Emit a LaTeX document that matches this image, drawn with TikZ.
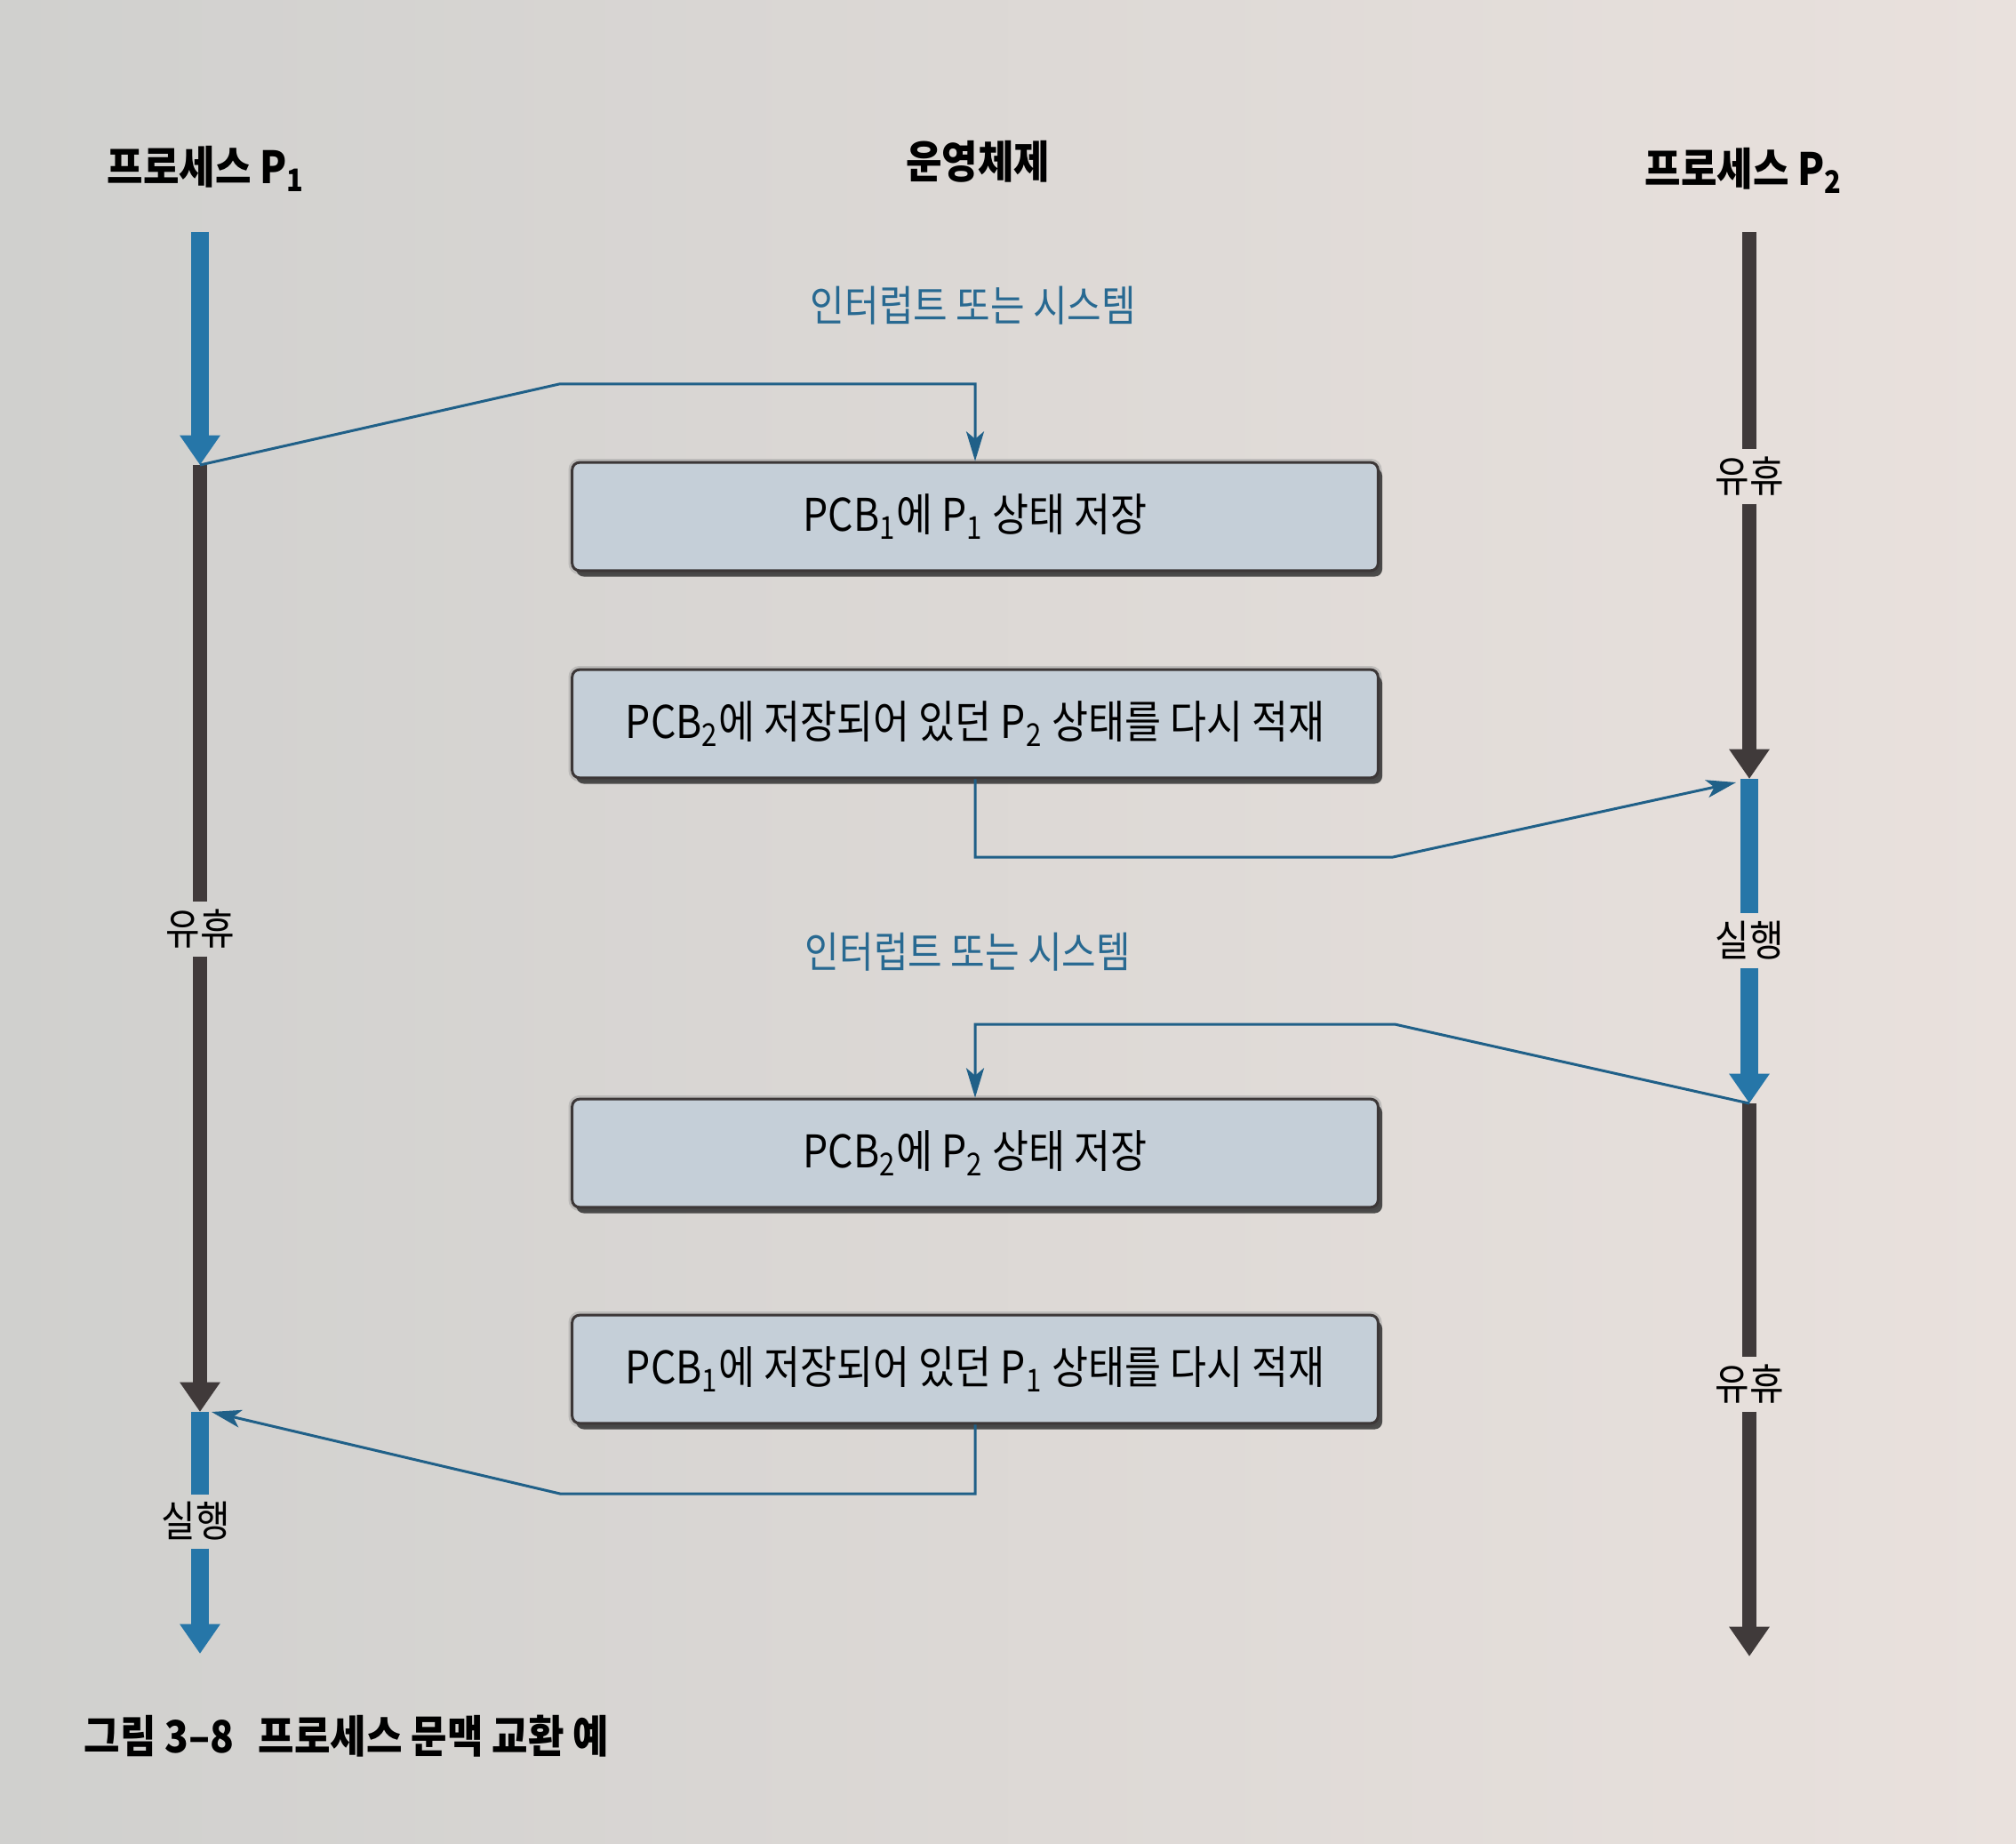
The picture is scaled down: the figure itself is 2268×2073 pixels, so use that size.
\documentclass[tikz,border=0pt]{standalone}
\usepackage{fontspec}
\setmainfont{Noto Sans CJK KR}[FakeStretch=0.88]
\usetikzlibrary{arrows.meta,shadows}
\definecolor{pagel}{RGB}{208,208,206}
\definecolor{pager}{RGB}{233,225,221}
\definecolor{runblue}{RGB}{38,118,168}
\definecolor{linkblue}{RGB}{32,96,136}
\definecolor{idlegray}{RGB}{64,58,58}
\definecolor{boxfill}{RGB}{197,207,216}
\definecolor{boxedge}{RGB}{60,55,55}
\definecolor{lblblue}{RGB}{40,105,145}
\begin{document}
\begin{tikzpicture}[x=0.3pt,y=-0.3pt,
  title/.style={font=\fontsize{15}{18}\selectfont\bfseries, inner sep=0pt},
  state/.style={font=\fontsize{14.3}{17}\selectfont, inner sep=2.5pt},
  irq/.style={font=\fontsize{14.3}{17}\selectfont, text=lblblue, inner sep=0pt},
  osbox/.style={draw=boxedge, line width=0.9pt, fill=boxfill, rounded corners=2.5pt,
    minimum width=272pt, minimum height=36.5pt, inner sep=0pt,
    font=\fontsize{15.2}{18}\selectfont,
    general shadow={fill=black!45, draw=black!35, line width=2.5pt, opacity=0.55},
    drop shadow={shadow xshift=1.4pt, shadow yshift=-2pt, fill=black!80, opacity=0.85}},
  run/.style={line width=5.8pt, draw=runblue},
  idle/.style={line width=4.8pt, draw=idlegray},
  bigtip/.style={-{Triangle[width=13pt,length=10pt]}},
  link/.style={draw=linkblue, line width=0.9pt, -{Stealth[length=10pt,width=6pt,inset=2.5pt]}}
]
% page background
\shade[left color=pagel, right color=pager] (0,0) rectangle (2268,2073);
\useasboundingbox (0,0) rectangle (2268,2073);

% titles
\node[title] (t1) at (232,190) {프로세스 P\textsubscript{1}};
\node[title] (tos) at (1100,182) {운영체제};
\node[title] (t2) at (1962,192) {프로세스 P\textsubscript{2}};

% OS boxes
\node[osbox] (box1) at (1097,581) {PCB\textsubscript{1}에 P\textsubscript{1} 상태 저장};
\node[osbox] (box2) at (1097,814) {PCB\textsubscript{2}에 저장되어 있던 P\textsubscript{2} 상태를 다시 적재};
\node[osbox] (box3) at (1097,1297) {PCB\textsubscript{2}에 P\textsubscript{2} 상태 저장};
\node[osbox] (box4) at (1097,1540) {PCB\textsubscript{1}에 저장되어 있던 P\textsubscript{1} 상태를 다시 적재};

% interrupt labels
\node[irq] (irq1) at (1095,344) {인터럽트 또는 시스템};
\node[irq] (irq2) at (1089,1071) {인터럽트 또는 시스템};

% process P1 time line
\coordinate (p1s) at (225,261);
\coordinate (p1sw) at (225,523);
\coordinate (p1back) at (225,1588);
\coordinate (p1e) at (225,1860);
\coordinate (p1in) at (238,1588);
\node[state] (p1idle) at (225,1045) {유휴};
\node[state] (p1run) at (220,1711) {실행};
\draw[run,bigtip] (p1s) -- (p1sw);
\draw[idle] (p1sw) -- (p1idle.north -| p1sw);
\draw[idle,bigtip] (p1idle.south -| p1sw) -- (p1back);
\draw[run] (p1back) -- (p1run.north -| p1back);
\draw[run,bigtip] (p1run.south -| p1back) -- (p1e);

% process P2 time line
\coordinate (p2s) at (1968,261);
\coordinate (p2sw) at (1968,876);
\coordinate (p2back) at (1968,1241);
\coordinate (p2e) at (1968,1863);
\coordinate (p2in) at (1953,880);
\node[state] (p2idleA) at (1968,536) {유휴};
\node[state] (p2run) at (1968,1058) {실행};
\node[state] (p2idleB) at (1968,1557) {유휴};
\draw[idle] (p2s) -- (p2idleA.north -| p2s);
\draw[idle,bigtip] (p2idleA.south -| p2s) -- (p2sw);
\draw[run] (p2sw) -- (p2run.north -| p2sw);
\draw[run,bigtip] (p2run.south -| p2sw) -- (p2back);
\draw[idle] (p2back) -- (p2idleB.north -| p2back);
\draw[idle,bigtip] (p2idleB.south -| p2back) -- (p2e);

% context-switch connectors
\coordinate (c1) at (629,432);
\coordinate (c2) at (1567,964);
\coordinate (c3) at (1569,1152);
\coordinate (c4) at (630,1680);
\draw[link] (p1sw) -- (c1) -- (c1 -| box1.north) -- (box1.north);
\draw[link] (box2.south) -- (box2.south |- c2) -- (c2) -- (p2in);
\draw[link] (p2back) -- (c3) -- (c3 -| box3.north) -- (box3.north);
\draw[link] (box4.south) -- (box4.south |- c4) -- (c4) -- (p1in);

% caption
\node[title, anchor=west] (cap) at (94,1953) {그림 3–8\hspace{0.55em}프로세스 문맥 교환 예};
\end{tikzpicture}
\end{document}
